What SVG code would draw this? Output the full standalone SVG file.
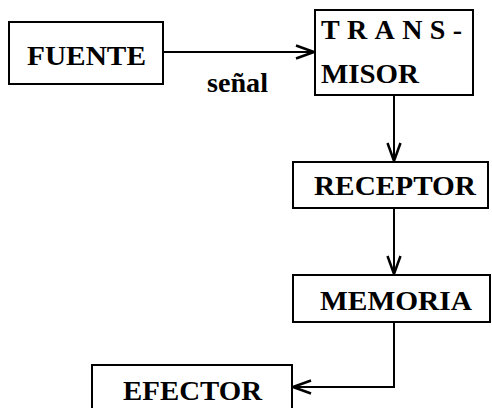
<svg xmlns="http://www.w3.org/2000/svg" width="492" height="408" viewBox="0 0 492 408">
<style>
.box{fill:#fff;stroke:#000;stroke-width:2}
.t{font-family:"Liberation Serif","Times New Roman",serif;font-weight:bold;font-size:28px;fill:#000}
.c{fill:none;stroke:#000;stroke-width:2}
</style>
<defs>
<marker id="ah" viewBox="0 0 20 16" refX="19" refY="8" markerWidth="20" markerHeight="16" markerUnits="userSpaceOnUse" orient="auto">
<path d="M1,1.5 L19,8 L1,14.5" fill="none" stroke="#000" stroke-width="2.5"/>
</marker>
</defs>
<g id="connectors">
<line class="c" x1="163" y1="52" x2="314" y2="52" marker-end="url(#ah)"/>
<line class="c" x1="394" y1="95" x2="394" y2="161" marker-end="url(#ah)"/>
<line class="c" x1="394" y1="208" x2="394" y2="274" marker-end="url(#ah)"/>
<polyline class="c" points="394,322 394,387 293,387" marker-end="url(#ah)"/>
<text class="t" x="207" y="92" textLength="61" lengthAdjust="spacingAndGlyphs">señal</text>
</g>
<g id="fuente">
<rect class="box" x="9" y="22" width="154" height="62"/>
<text class="t" x="27" y="65" textLength="119" lengthAdjust="spacingAndGlyphs">FUENTE</text>
</g>
<g id="transmisor">
<rect class="box" x="315" y="10" width="158" height="85"/>
<text class="t" x="321" y="39" textLength="141" lengthAdjust="spacing">TRANS-</text>
<text class="t" x="321" y="83" textLength="98" lengthAdjust="spacingAndGlyphs">MISOR</text>
</g>
<g id="receptor">
<rect class="box" x="293" y="162" width="195" height="46"/>
<text class="t" x="314" y="195" textLength="162" lengthAdjust="spacingAndGlyphs">RECEPTOR</text>
</g>
<g id="memoria">
<rect class="box" x="293" y="275" width="197" height="47"/>
<text class="t" x="320" y="310" textLength="152" lengthAdjust="spacingAndGlyphs">MEMORIA</text>
</g>
<g id="efector">
<rect class="box" x="92" y="365" width="200" height="50"/>
<text class="t" x="123" y="400" textLength="139" lengthAdjust="spacingAndGlyphs">EFECTOR</text>
</g>
</svg>
